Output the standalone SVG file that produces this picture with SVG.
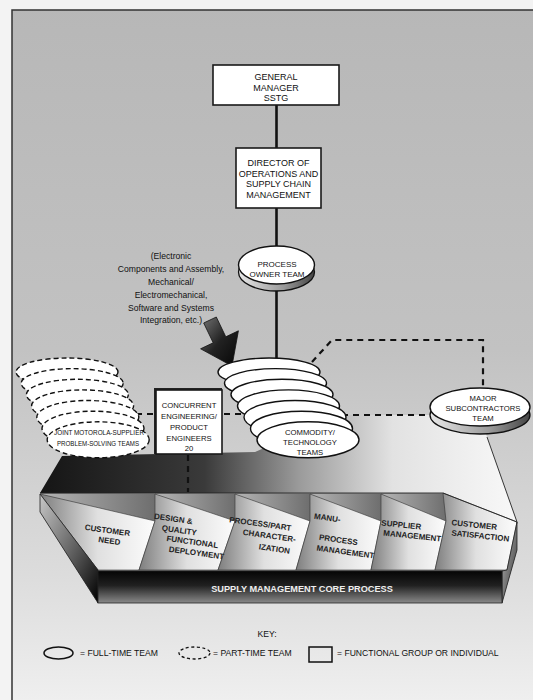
<svg xmlns="http://www.w3.org/2000/svg" width="533" height="700" viewBox="0 0 533 700">
<defs>
<linearGradient id="bg" x1="0" y1="0" x2="0" y2="700" gradientUnits="userSpaceOnUse">
<stop offset="0" stop-color="#b7b7b7"/><stop offset="0.5" stop-color="#c2c2c2"/><stop offset="0.82" stop-color="#dcdcdc"/><stop offset="1" stop-color="#efefef"/>
</linearGradient>
<linearGradient id="plane" x1="40" y1="0" x2="510" y2="0" gradientUnits="userSpaceOnUse">
<stop offset="0" stop-color="#151515"/><stop offset="0.35" stop-color="#3a3a3a"/><stop offset="0.55" stop-color="#9a9a9a"/><stop offset="0.75" stop-color="#e2e2e2"/><stop offset="1" stop-color="#f7f7f7"/>
</linearGradient>
<linearGradient id="panel" x1="0" y1="0" x2="1" y2="0">
<stop offset="0" stop-color="#7e7e7e"/><stop offset="0.5" stop-color="#e0e0e0"/><stop offset="1" stop-color="#fcfcfc"/>
</linearGradient>
<linearGradient id="bandtop" x1="0" y1="0" x2="1" y2="0">
<stop offset="0" stop-color="#b5b5b5"/><stop offset="1" stop-color="#6e6e6e"/>
</linearGradient>
<linearGradient id="bar" x1="0" y1="0" x2="0" y2="1">
<stop offset="0" stop-color="#050505"/><stop offset="0.45" stop-color="#202020"/><stop offset="1" stop-color="#8a8a8a"/>
</linearGradient>
<linearGradient id="endL" x1="0" y1="0" x2="1" y2="1">
<stop offset="0" stop-color="#c8c8c8"/><stop offset="0.6" stop-color="#555"/><stop offset="1" stop-color="#000"/>
</linearGradient>
<linearGradient id="endR" x1="0" y1="0" x2="1" y2="1">
<stop offset="0" stop-color="#bbb"/><stop offset="1" stop-color="#333"/>
</linearGradient>
<linearGradient id="side" x1="0" y1="0" x2="1" y2="0">
<stop offset="0" stop-color="#e8e8e8"/><stop offset="0.6" stop-color="#999"/><stop offset="1" stop-color="#444"/>
</linearGradient>
<linearGradient id="arrow" x1="0" y1="0" x2="1" y2="1">
<stop offset="0" stop-color="#777"/><stop offset="0.5" stop-color="#222"/><stop offset="1" stop-color="#050505"/>
</linearGradient>
<style>
.box{fill:#fff;stroke:#1a1a1a;stroke-width:1.6}
.ell{fill:#fff;stroke:#111;stroke-width:1.4}
.pt{fill:#fff;stroke:#111;stroke-width:1.4;stroke-dasharray:5 3}
.t{font-family:"Liberation Sans",Arial,sans-serif;fill:#111;text-anchor:middle}
.n9{font-size:9px}
.n8{font-size:7.7px}
.n7{font-size:7px}
.pl{font-family:"Liberation Sans",Arial,sans-serif;font-weight:bold;font-size:8px;fill:#222;text-anchor:middle}
.solid{fill:none;stroke:#111;stroke-width:2.6}
.dash{fill:none;stroke:#111;stroke-width:2.2;stroke-dasharray:6 5}
.edge{fill:none;stroke:#222;stroke-width:0.9}
</style>
</defs>

<rect x="0" y="0" width="533" height="700" fill="#f3f3f3"/>
<rect x="12" y="10" width="540" height="710" fill="url(#bg)" stroke="#333" stroke-width="1.5"/>

<g id="plane-floor">
<polygon points="40,493 62,456 255,452 340,415 480,415 487,437 517,522 443,493" fill="url(#plane)"/>
<line x1="487" y1="437" x2="517" y2="522" class="edge"/>
</g>

<g id="core-process">
<polygon points="40,493 443,493 517,522 517,550 502,603 98,603 40,512" fill="#8e8e8e"/>
<polygon points="40,494 155,494 155,521" fill="url(#bandtop)"/>
<polygon points="155,494 235,494 235,521" fill="url(#bandtop)"/>
<polygon points="235,494 310,494 310,521" fill="url(#bandtop)"/>
<polygon points="310,494 381,494 381,521" fill="url(#bandtop)"/>
<polygon points="381,494 446,494 446,521" fill="url(#bandtop)"/>
<polygon points="40,494 155,521 139,570 98,570" fill="url(#panel)" stroke="#333" stroke-width="0.6"/>
<polygon points="155,494 235,521 218,570 139,570 155,521" fill="url(#panel)" stroke="#333" stroke-width="0.6"/>
<polygon points="235,494 310,521 296,570 218,570 235,521" fill="url(#panel)" stroke="#333" stroke-width="0.6"/>
<polygon points="310,494 381,521 371,570 296,570 310,521" fill="url(#panel)" stroke="#333" stroke-width="0.6"/>
<polygon points="381,494 446,521 435,570 371,570 381,521" fill="url(#panel)" stroke="#333" stroke-width="0.6"/>
<polygon points="443,493 517,522 507,570 435,570 446,521" fill="url(#panel)" stroke="#333" stroke-width="0.6"/>
<polygon points="40,494 98,570 98,603 40,512" fill="url(#endL)" stroke="#222" stroke-width="0.8"/>
<polygon points="517,522 517,550 502,603 502,571 507,570" fill="url(#endR)" stroke="#222" stroke-width="0.8"/>
<rect x="98" y="571" width="404" height="32" fill="url(#bar)" stroke="#222" stroke-width="0.8"/>
<polyline points="40,493 443,493 517,522" class="edge"/>
<text x="302" y="591.5" style="font-family:'Liberation Sans',Arial,sans-serif;font-weight:bold;font-size:9.2px;fill:#eee;text-anchor:middle">SUPPLY MANAGEMENT CORE PROCESS</text>
<g class="pl">
<text transform="translate(107,533) rotate(8)">CUSTOMER</text>
<text transform="translate(109,543.5) rotate(8)">NEED</text>
<text transform="translate(173,521.5) rotate(8)">DESIGN &amp;</text>
<text transform="translate(179,533) rotate(8)">QUALITY</text>
<text transform="translate(192,544.5) rotate(8)">FUNCTIONAL</text>
<text transform="translate(196,555.5) rotate(8)">DEPLOYMENT</text>
<text transform="translate(260,526.5) rotate(8)">PROCESS/PART</text>
<text transform="translate(269,538.5) rotate(8)">CHARACTER-</text>
<text transform="translate(274,551.5) rotate(8)">IZATION</text>
<text transform="translate(327,520.5) rotate(8)">MANU-</text>
<text transform="translate(338,542.5) rotate(8)">PROCESS</text>
<text transform="translate(345,554.5) rotate(8)">MANAGEMENT</text>
<text transform="translate(401,527.5) rotate(6)">SUPPLIER</text>
<text transform="translate(412,538.5) rotate(6)">MANAGEMENT</text>
<text transform="translate(474,527.5) rotate(6)">CUSTOMER</text>
<text transform="translate(480,538.5) rotate(6)">SATISFACTION</text>
</g>
</g>

<g id="connectors">
<line x1="276.5" y1="105" x2="276.5" y2="148" class="solid"/>
<line x1="276.5" y1="208" x2="276.5" y2="248" class="solid"/>
<line x1="276.5" y1="290" x2="276.5" y2="360" class="solid"/>
<line x1="136" y1="414" x2="244" y2="414" class="dash"/>
<line x1="188" y1="455" x2="188" y2="492" class="dash"/>
<polyline points="312,362 332,340 483,340 483,389" class="dash"/>
<line x1="342" y1="415" x2="432" y2="415" class="dash"/>
</g>

<g id="general-manager">
<rect x="213" y="65" width="126" height="40" class="box"/>
<text class="t n9" x="276" y="80">GENERAL</text>
<text class="t n9" x="276" y="90.5">MANAGER</text>
<text class="t n9" x="276" y="101">SSTG</text>
</g>

<g id="director">
<rect x="236" y="148" width="85" height="60" class="box"/>
<text class="t n9" x="278.5" y="166">DIRECTOR OF</text>
<text class="t n9" x="278.5" y="176.5">OPERATIONS AND</text>
<text class="t n9" x="278.5" y="187">SUPPLY CHAIN</text>
<text class="t n9" x="278.5" y="197.5">MANAGEMENT</text>
</g>

<g id="process-owner">
<ellipse cx="276.5" cy="272" rx="38" ry="19" fill="url(#side)" stroke="#111" stroke-width="1.3"/>
<ellipse cx="276.5" cy="265" rx="38" ry="19" class="ell"/>
<text class="t" x="277" y="266.5" style="font-size:8px">PROCESS</text>
<text class="t" x="277" y="276.5" style="font-size:8px">OWNER TEAM</text>
</g>

<g id="note">
<g class="t" style="font-size:8.6px">
<text x="171" y="259">(Electronic</text>
<text x="171" y="272">Components and Assembly,</text>
<text x="171" y="285">Mechanical/</text>
<text x="171" y="297.5">Electromechanical,</text>
<text x="171" y="310.5">Software and Systems</text>
<text x="171" y="323">Integration, etc.)</text>
</g>
<polygon points="203.7,323 216.3,317 225.8,336.8 238.4,330.8 232,366 200.6,348.8 213.2,342.8" fill="url(#arrow)" stroke="#111" stroke-width="0.8"/>
</g>

<g id="joint-teams">
<ellipse cx="67" cy="372" rx="51" ry="14" class="pt"/>
<ellipse cx="72.2" cy="383.3" rx="51" ry="14.7" class="pt"/>
<ellipse cx="77.4" cy="394.6" rx="51" ry="15.3" class="pt"/>
<ellipse cx="82.6" cy="405.9" rx="51" ry="16" class="pt"/>
<ellipse cx="87.8" cy="417.2" rx="51" ry="16.7" class="pt"/>
<ellipse cx="93" cy="428.5" rx="51" ry="17.3" class="pt"/>
<ellipse cx="98.2" cy="439.8" rx="51" ry="18" class="pt"/>
<text class="t n7" x="99" y="435" textLength="90" lengthAdjust="spacingAndGlyphs">JOINT MOTOROLA-SUPPLIER</text>
<text class="t n7" x="98" y="446" textLength="82" lengthAdjust="spacingAndGlyphs">PROBLEM-SOLVING TEAMS</text>
</g>

<g id="concurrent-engineering">
<rect x="154" y="388" width="68" height="66" fill="#222"/>
<rect x="156" y="390" width="66" height="64" class="box"/>
<text class="t n8" x="189" y="408">CONCURRENT</text>
<text class="t n8" x="189" y="419">ENGINEERING/</text>
<text class="t n8" x="189" y="430">PRODUCT</text>
<text class="t n8" x="189" y="440.5">ENGINEERS</text>
<text class="t n8" x="189" y="450.5">20</text>
</g>

<g id="commodity-teams">
<ellipse cx="269" cy="372" rx="51" ry="14" class="ell"/>
<ellipse cx="275.5" cy="383.3" rx="51" ry="14.7" class="ell"/>
<ellipse cx="282" cy="394.6" rx="51" ry="15.3" class="ell"/>
<ellipse cx="288.5" cy="405.9" rx="51" ry="16" class="ell"/>
<ellipse cx="295" cy="417.2" rx="51" ry="16.7" class="ell"/>
<ellipse cx="301.5" cy="428.5" rx="51" ry="17.3" class="ell"/>
<ellipse cx="308" cy="439.8" rx="51" ry="18" class="ell"/>
<text class="t n8" x="310" y="435">COMMODITY/</text>
<text class="t n8" x="310" y="445">TECHNOLOGY</text>
<text class="t n8" x="310" y="455">TEAMS</text>
</g>

<g id="major-subcontractors">
<ellipse cx="480" cy="415" rx="50" ry="19" fill="url(#side)" stroke="#111" stroke-width="1.3"/>
<ellipse cx="480" cy="407" rx="50" ry="19" class="ell"/>
<text class="t" x="483" y="401" style="font-size:7.7px">MAJOR</text>
<text class="t" x="483" y="411" style="font-size:7.7px">SUBCONTRACTORS</text>
<text class="t" x="483" y="421" style="font-size:7.7px">TEAM</text>
</g>

<g id="key">
<text class="t" x="267" y="637" style="font-size:8.6px">KEY:</text>
<ellipse cx="58.5" cy="653" rx="14.5" ry="6" fill="none" stroke="#111" stroke-width="1.5"/>
<text class="t" x="80" y="656" style="font-size:8.6px;text-anchor:start">= FULL-TIME TEAM</text>
<ellipse cx="194.5" cy="653" rx="15.5" ry="6" fill="none" stroke="#111" stroke-width="1.3" stroke-dasharray="3 2.5"/>
<text class="t" x="213" y="656" style="font-size:8.6px;text-anchor:start">= PART-TIME TEAM</text>
<rect x="309" y="647" width="23" height="15" fill="none" stroke="#111" stroke-width="1.5"/>
<text class="t" x="337" y="656" style="font-size:8.6px;text-anchor:start">= FUNCTIONAL GROUP OR INDIVIDUAL</text>
</g>
</svg>
